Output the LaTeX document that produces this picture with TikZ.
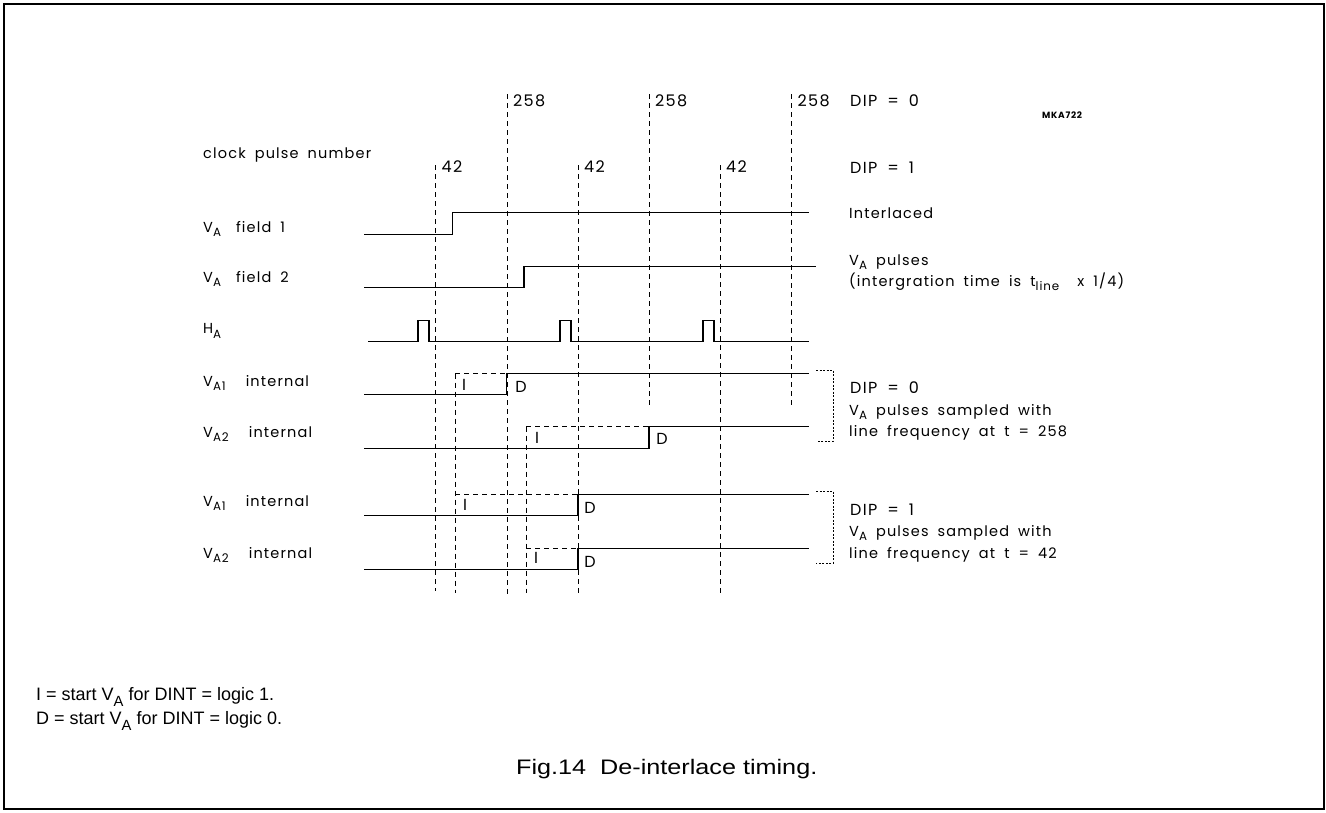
\documentclass[tikz,border=0pt]{standalone}
\usepackage{fontspec}
\setmainfont{Liberation Sans}
\newfontfamily\dia[LetterSpace=8,WordSpace=1.8]{Poppins}
\newfontfamily\capfont[FakeStretch=1.2]{Liberation Sans}
\newcommand\lo[1]{\raisebox{-0.3em}{\scalebox{0.82}{#1}}}

\begin{document}
\begin{tikzpicture}[x=1pt,y=-1pt,
  sig/.style={line width=1.1pt},
  grid/.style={line width=0.9pt,dash pattern=on 5pt off 4pt},
  brk/.style={line width=0.9pt,dash pattern=on 2pt off 1.5pt},
  lab/.style={anchor=west,inner sep=0pt,font=\dia\fontsize{14.5}{17}\selectfont},
  num/.style={anchor=west,inner sep=0pt,font=\dia\fontsize{16}{18}\selectfont},
  note/.style={anchor=west,inner sep=0pt,font=\fontsize{18}{20}\selectfont}]
\useasboundingbox (0,0) rectangle (1326,812);
\draw[line width=1.4pt] (4,4) rectangle (1324,809);
% clock pulse numbers
\foreach \x/\yb [count=\i] in {435.5/591,578/595,720/595}
  {\draw[grid] (\x,165) -- (\x,\yb); \node[num] (n42-\i) at (\x+6,167) {42};}
\foreach \x/\yb [count=\i] in {507/595,649/408,791.5/408}
  {\draw[grid] (\x,94) -- (\x,\yb); \node[num] (n258-\i) at (\x+6,101) {258};}
\draw[grid] (455,373.5) -- (455,593);
\draw[grid] (526,426.5) -- (526,593);
% signals
\foreach \xs/\xb/\lo/\hi in {452.7/809/234.5/212.5,524/816/287.5/266.5,506.7/809/394.5/373.5,
  649/809/448.5/426.5,578/809/515.5/494.5,578/809/569.5/548.5}
  \draw[sig] (364,\lo) -| (\xs,\hi) -- (\xb,\hi);
\draw[sig] (368,341.5) foreach \p in {418,560,703} {-- (\p,341.5) -- (\p,320.5) -- ++(11,0) -- ++(0,21)} -- (809,341.5);
\foreach \xa/\xb/\hi in {455/506.7/373.5,526/649/426.5,455/578/494.5,526/578/548.5}
  \draw[grid] (\xa,\hi) -- (\xb,\hi);
\foreach \x/\y/\t [count=\i] in {464/385/I,521/387/D,537/438/I,662/439/D,465/505/I,590/508/D,536/558/I,590/562/D}
  \node[num,anchor=center] (m\i) at (\x,\y) {\t};
% brackets
\draw[brk] (816,370) -| (833,441) -- (816,441);
\draw[brk] (816,491) -| (833,563) -- (816,563);
% left labels
\foreach \y/\t [count=\i] in {155/clock pulse number,229/V\lo{A}\hspace{15pt}field 1,
  279/V\lo{A}\hspace{15pt}field 2,331/H\lo{A},383/V\lo{A1}\hspace{20pt}internal,
  434/V\lo{A2}\hspace{20pt}internal,503/V\lo{A1}\hspace{20pt}internal,555/V\lo{A2}\hspace{20pt}internal}
  \node[lab] (l\i) at (203,\y) {\t};
% right notes
\node[num] (dip0) at (850,101) {DIP\ =\ 0};
\node[num] (dip1) at (850,168) {DIP\ =\ 1};
\node[anchor=west,inner sep=0pt,font=\dia\bfseries\fontsize{9}{10}\selectfont] (id) at (1042,115) {MKA722};
\node[lab] (r1) at (849,213) {Interlaced};
\node[lab] (r2) at (849,262) {V\lo{A} pulses};
\node[lab] (r3) at (849,282) {(intergration time is t\lo{line}\ \ x 1/4)};
\node[num] (dip0b) at (850,388) {DIP\ =\ 0};
\node[lab] (r4) at (849,412) {V\lo{A} pulses sampled with};
\node[lab] (r5) at (849,433) {line frequency at t = 258};
\node[num] (dip1b) at (850,510) {DIP\ =\ 1};
\node[lab] (r6) at (849,533) {V\lo{A} pulses sampled with};
\node[lab] (r7) at (849,555) {line frequency at t = 42};
% notes and caption
\node[note] (k1) at (36,697) {I = start V\lo{A} for DINT = logic 1.};
\node[note] (k2) at (36,721) {D = start V\lo{A} for DINT = logic 0.};
\node[anchor=west,inner sep=0pt,font=\capfont\fontsize{21}{24}\selectfont] (cap) at (516,769) {Fig.14\ \ De-interlace timing.};
\end{tikzpicture}
\end{document}
